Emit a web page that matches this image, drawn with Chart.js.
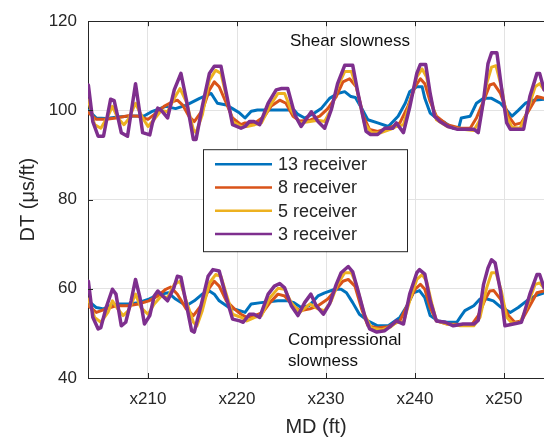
<!DOCTYPE html>
<html>
<head>
<meta charset="utf-8">
<script src="https://cdn.jsdelivr.net/npm/chart.js@4"></script>
<style>
  html, body { margin: 0; padding: 0; background: #fff; overflow: hidden; }
  canvas { display: block; }
</style>
</head>
<body>
<canvas id="dtChart" width="544" height="439"></canvas>
<script>
// receiver configurations (legend order)
const receivers = ["13 receiver", "8 receiver", "5 receiver", "3 receiver"];
const xTicks = [210, 220, 230, 240, 250];
const yTicks = [40, 60, 80, 100, 120];

// shear slowness, [MD ft, DT us/ft]
const shear13 = [[203.3,100.0],[204.2,98.3],[205.3,98.2],[206.6,98.5],[207.8,98.7],[209.6,98.8],[210.5,99.8],[212.0,100.9],[213.1,100.4],[214.3,101.2],[215.8,102.7],[217.1,103.8],[217.8,101.6],[218.8,101.2],[219.5,100.4],[220.3,99.4],[220.9,98.3],[221.6,99.8],[222.3,100.1],[226.4,100.1],[226.85,99.1],[227.6,98.3],[228.7,99.4],[229.5,100.5],[230.4,102.7],[231.3,103.8],[232.1,104.2],[232.8,103.1],[233.3,102.9],[234.0,100.5],[234.7,97.9],[235.8,97.2],[237.0,96.4],[238.1,98.7],[238.9,101.6],[239.4,104.2],[240.2,105.3],[240.8,105.3],[241.1,102.7],[241.7,99.4],[242.4,98.3],[243.4,97.2],[244.3,96.0],[244.9,96.0],[245.2,98.3],[246.2,98.7],[246.9,101.6],[247.7,102.7],[248.6,102.7],[249.6,101.6],[250.9,98.7],[251.6,100.0],[252.4,101.6],[253.3,102.3],[254.5,102.5]];
const shear8 = [[203.3,99.5],[204.2,98.0],[205.3,98.0],[206.4,98.3],[207.8,98.8],[208.9,98.7],[210.0,98.0],[210.9,99.4],[211.8,100.9],[212.8,102.0],[213.3,102.3],[213.9,101.2],[214.6,98.7],[215.2,97.5],[216.1,100.0],[216.9,104.6],[217.45,106.4],[218.0,105.3],[218.8,101.6],[219.5,98.3],[220.45,96.8],[220.9,97.2],[222.0,97.2],[223.1,98.7],[223.85,101.0],[224.8,102.3],[225.5,101.6],[226.3,98.7],[227.05,97.6],[228.2,97.8],[229.3,98.7],[230.2,100.4],[231.15,103.1],[231.9,106.4],[232.65,107.1],[233.4,105.3],[234.2,98.7],[234.9,95.7],[235.8,95.3],[237.0,96.0],[238.3,97.2],[239.2,100.9],[240.0,105.3],[240.6,107.1],[241.1,106.0],[241.7,102.0],[242.4,98.7],[243.6,96.8],[245.1,96.0],[246.2,96.0],[246.9,98.3],[247.9,103.1],[248.4,105.7],[248.85,106.0],[249.6,103.8],[250.5,98.7],[251.2,96.8],[251.95,97.2],[252.9,100.4],[253.7,103.1],[254.5,102.7]];
const shear5 = [[203.3,102.3],[204.0,96.8],[204.7,96.0],[205.5,98.7],[206.0,100.9],[206.6,98.3],[207.3,96.8],[207.8,98.0],[208.6,101.6],[209.4,98.3],[210.0,96.4],[210.7,98.0],[211.5,100.0],[212.2,99.7],[212.95,102.7],[213.6,104.9],[214.3,102.0],[215.1,95.7],[215.4,95.0],[216.1,99.0],[216.9,106.8],[217.6,109.0],[218.2,108.3],[218.8,103.1],[219.5,97.5],[220.45,96.4],[221.1,96.4],[222.0,96.8],[222.75,97.2],[223.7,101.0],[224.6,103.8],[225.35,103.8],[226.1,100.0],[227.05,97.2],[228.2,97.5],[229.1,97.8],[229.85,97.5],[230.6,100.4],[231.3,105.3],[232.1,108.7],[232.85,108.7],[233.4,105.3],[234.3,97.2],[235.1,95.0],[236.2,95.0],[237.3,95.8],[237.9,96.4],[238.7,96.8],[239.4,101.6],[240.2,107.5],[240.8,109.3],[241.3,107.5],[241.9,101.6],[242.4,97.9],[243.6,96.4],[245.1,95.8],[246.6,95.5],[247.3,97.9],[248.05,106.0],[248.6,109.7],[249.1,110.0],[249.7,105.3],[250.3,98.7],[250.9,96.2],[251.8,96.0],[252.55,99.4],[253.5,105.3],[254.0,106.0],[254.5,104.6]];
const shear3 = [[203.3,105.7],[203.8,97.5],[204.4,94.2],[205.0,94.2],[205.8,102.5],[206.2,102.2],[207.0,95.0],[207.7,94.2],[208.6,106.0],[209.4,95.0],[210.2,94.5],[210.5,97.2],[211.1,100.5],[211.5,100.0],[212.2,98.3],[212.95,104.6],[213.7,108.3],[214.3,102.5],[215.1,93.5],[215.4,93.5],[216.1,100.9],[216.9,108.3],[217.45,109.9],[218.2,109.9],[218.8,103.8],[219.5,96.8],[220.45,96.0],[220.9,96.4],[221.4,97.5],[221.9,97.5],[222.55,96.8],[223.5,101.6],[224.4,104.6],[225.0,104.9],[225.7,104.9],[226.5,99.0],[227.2,96.4],[228.35,99.7],[229.1,97.5],[229.85,96.0],[230.6,100.2],[231.3,106.0],[232.1,110.1],[233.0,110.1],[233.6,103.8],[234.5,95.3],[235.0,94.6],[235.8,94.6],[236.6,96.0],[237.5,96.0],[237.9,97.2],[238.7,95.0],[239.4,100.7],[240.2,108.3],[240.6,110.3],[241.2,110.3],[241.7,103.8],[242.2,98.7],[242.8,97.5],[243.7,96.4],[244.7,95.8],[246.6,95.8],[247.1,95.0],[247.7,102.3],[248.2,110.5],[248.6,112.9],[249.2,112.9],[249.7,105.3],[250.3,97.2],[250.7,95.8],[252.2,95.8],[252.9,103.1],[253.7,108.3],[254.0,108.3],[254.5,104.6]];

// compressional slowness, [MD ft, DT us/ft]
const comp13 = [[203.3,57.3],[204.2,55.8],[205.0,55.5],[205.8,56.2],[206.7,56.6],[207.8,56.6],[208.9,56.9],[210.1,57.7],[211.3,58.8],[212.3,59.1],[213.1,57.7],[214.3,56.2],[215.2,57.3],[216.1,58.8],[216.9,59.5],[217.45,58.8],[218.0,57.3],[219.1,55.8],[220.3,55.1],[220.9,54.7],[221.6,56.6],[222.7,56.9],[224.6,57.3],[225.7,57.3],[226.4,56.9],[227.2,55.8],[228.1,56.2],[229.1,58.4],[229.85,59.1],[231.0,59.9],[231.7,59.9],[232.3,59.1],[233.0,56.9],[233.75,54.3],[234.7,52.8],[235.8,51.7],[237.0,51.7],[238.3,53.6],[239.1,56.2],[239.8,59.1],[240.5,59.6],[241.1,58.0],[241.7,54.0],[242.6,52.8],[243.6,52.5],[244.7,52.5],[245.2,54.0],[245.6,55.1],[246.6,56.2],[247.3,57.7],[248.1,57.7],[248.8,57.3],[249.7,55.8],[250.7,54.7],[251.6,55.8],[252.55,57.3],[253.5,58.4],[254.5,59.1]];
const comp8 = [[203.3,56.2],[204.2,54.7],[205.3,55.5],[206.4,56.2],[207.8,56.2],[208.9,56.6],[210.1,57.3],[211.1,58.4],[212.0,59.9],[212.55,60.4],[213.3,58.8],[214.3,55.5],[215.1,54.0],[216.1,56.6],[216.9,60.2],[217.45,61.7],[218.0,60.6],[218.8,57.3],[219.7,55.5],[220.45,54.3],[221.1,53.6],[222.0,54.0],[222.9,54.7],[223.7,56.9],[224.6,58.8],[225.35,58.4],[226.3,56.2],[227.05,55.1],[228.2,55.5],[229.1,56.2],[230.2,57.7],[231.15,59.9],[231.9,61.7],[232.5,62.1],[233.25,60.6],[234.0,55.5],[234.7,51.7],[235.8,51.2],[237.0,51.5],[238.3,52.8],[239.2,56.6],[240.0,59.9],[240.6,61.0],[241.1,59.9],[241.7,55.8],[242.4,52.8],[243.6,52.1],[245.1,52.0],[246.4,52.0],[247.1,54.0],[247.9,57.7],[248.4,59.5],[248.85,59.6],[249.6,57.7],[250.5,54.0],[251.2,52.5],[251.95,52.8],[252.9,56.2],[253.7,59.1],[254.5,59.5]];
const comp5 = [[203.3,57.7],[204.0,53.6],[204.7,52.5],[205.5,54.7],[206.0,57.3],[206.6,55.5],[207.2,54.0],[207.8,55.1],[208.6,58.8],[209.2,55.8],[210.0,54.3],[210.7,56.6],[211.5,58.4],[212.2,58.0],[212.95,61.0],[213.6,61.7],[214.3,57.3],[215.1,52.5],[215.5,51.7],[216.1,55.1],[216.9,61.3],[217.6,63.2],[218.2,62.8],[218.8,58.8],[219.5,54.3],[220.45,53.6],[221.1,52.8],[222.0,53.6],[222.75,54.0],[223.7,58.0],[224.6,60.1],[225.35,59.9],[226.1,56.9],[227.05,54.7],[228.2,56.6],[229.1,55.5],[229.85,55.1],[230.6,57.3],[231.3,61.0],[232.1,63.6],[232.85,63.6],[233.4,61.0],[234.3,54.3],[235.1,51.2],[236.2,50.8],[237.3,51.5],[237.9,52.5],[238.7,52.5],[239.4,57.3],[240.2,62.1],[240.8,63.2],[241.3,61.7],[241.9,56.6],[242.4,52.8],[243.6,52.1],[245.1,51.7],[246.6,51.7],[247.3,53.6],[248.05,60.2],[248.6,63.6],[249.1,63.6],[249.7,59.5],[250.3,53.6],[250.9,52.3],[251.8,52.5],[252.55,55.8],[253.5,61.0],[254.0,61.3],[254.5,60.2]];
const comp3 = [[203.3,61.7],[203.8,53.6],[204.4,51.0],[204.7,51.3],[205.3,55.8],[206.0,59.9],[206.4,58.8],[207.0,51.7],[207.5,52.5],[208.1,57.3],[208.6,62.1],[209.1,58.0],[209.6,52.1],[210.2,54.0],[210.7,58.4],[211.1,59.5],[211.65,58.4],[212.2,57.3],[212.9,60.2],[213.3,62.8],[213.7,62.6],[214.3,56.6],[214.9,50.6],[215.2,50.3],[216.0,56.6],[216.75,62.8],[217.3,64.3],[218.0,64.0],[218.8,58.0],[219.5,53.2],[220.3,52.8],[220.7,52.5],[221.4,54.3],[221.9,54.3],[222.55,53.6],[223.5,58.8],[224.2,60.6],[224.8,61.2],[225.35,60.2],[226.1,56.2],[226.85,54.0],[227.6,56.9],[228.3,58.8],[228.9,56.2],[229.7,54.3],[230.4,56.6],[231.15,61.0],[231.7,63.6],[232.5,65.0],[233.0,63.8],[233.6,59.5],[234.4,53.6],[234.9,51.0],[235.7,50.3],[236.6,50.6],[237.3,51.7],[237.9,52.8],[238.7,52.1],[239.4,58.8],[240.2,63.6],[240.5,64.3],[241.1,63.3],[241.7,57.3],[242.4,52.8],[243.4,52.5],[244.3,51.7],[245.4,52.1],[246.6,52.1],[247.1,52.9],[247.7,61.0],[248.2,64.7],[248.6,66.5],[249.0,65.8],[249.6,59.5],[250.1,51.7],[251.05,52.1],[251.95,52.5],[252.9,58.8],[253.7,63.2],[254.0,63.2],[254.5,60.2]];

document.addEventListener("DOMContentLoaded", () => {
  const ctx = document.getElementById("dtChart").getContext("2d");
  const FONT = '"Liberation Sans", Arial, Helvetica, sans-serif';
  const INK = "#262626";
  const colors = ["#0072BD", "#D95319", "#EDB120", "#7E2F8E"];
  const widths = [3, 3, 3, 3.5];

  const groups = [
    [shear13, shear8, shear5, shear3],
    [comp13, comp8, comp5, comp3]
  ];

  const datasets = [];
  groups.forEach(group => {
    group.forEach((series, i) => {
      datasets.push({
        label: receivers[i],
        data: series.map(p => ({ x: p[0], y: p[1] })),
        borderColor: colors[i],
        borderWidth: widths[i],
        borderJoinStyle: "round",
        borderCapStyle: "round",
        pointRadius: 0,
        tension: 0,
        fill: false,
        order: 4 - i
      });
    });
  });

  // inward ticks, text notes and the boxed legend inside the axes
  const overlay = {
    id: "overlay",
    afterDraw(chart) {
      const c = chart.ctx;
      const a = chart.chartArea;
      const x = chart.scales.x, y = chart.scales.y;
      c.save();
      c.strokeStyle = INK;
      c.lineWidth = 1;
      c.beginPath();
      xTicks.forEach(v => {
        const px = Math.round(x.getPixelForValue(v)) + 0.5;
        c.moveTo(px, a.bottom); c.lineTo(px, a.bottom - 5);
        c.moveTo(px, a.top); c.lineTo(px, a.top + 5);
      });
      yTicks.forEach(v => {
        const py = Math.round(y.getPixelForValue(v)) + 0.5;
        c.moveTo(a.left, py); c.lineTo(a.left + 5, py);
      });
      c.stroke();

      c.fillStyle = "#111";
      c.font = "17px " + FONT;
      c.textBaseline = "middle";
      c.textAlign = "left";
      c.fillText("Shear slowness", x.getPixelForValue(225.95), y.getPixelForValue(115.6));
      c.fillText("Compressional", x.getPixelForValue(225.73), y.getPixelForValue(48.4));
      c.fillText("slowness", x.getPixelForValue(225.73), y.getPixelForValue(43.8));

      // legend box
      const lx = a.left + 115, ly = a.top + 128, lw = 204, lh = 102;
      c.fillStyle = "#fff";
      c.fillRect(lx, ly, lw, lh);
      c.strokeStyle = INK;
      c.lineWidth = 1;
      c.strokeRect(lx + 0.5, ly + 0.5, lw, lh);
      c.font = "18px " + FONT;
      receivers.forEach((name, i) => {
        const ry = ly + 15 + i * 23.3;
        c.strokeStyle = colors[i];
        c.lineWidth = 2.5;
        c.beginPath();
        c.moveTo(lx + 12, ry); c.lineTo(lx + 69, ry);
        c.stroke();
        c.fillStyle = INK;
        c.fillText(name, lx + 75, ry + 1);
      });
      c.restore();
    }
  };

  new Chart(ctx, {
    type: "line",
    data: { datasets },
    plugins: [overlay],
    options: {
      responsive: false,
      animation: false,
      layout: { padding: { top: 17, right: 0, left: 0, bottom: 0 } },
      plugins: { legend: { display: false }, tooltip: { enabled: false } },
      scales: {
        x: {
          type: "linear",
          min: 203.26,
          max: 254.49,
          afterBuildTicks: s => { s.ticks = xTicks.map(v => ({ value: v })); },
          afterFit: s => { s.height = 61; },
          grid: { color: "#e3e3e3", drawTicks: false },
          border: { color: INK, width: 1 },
          ticks: {
            color: INK,
            padding: 11,
            maxRotation: 0,
            autoSkip: false,
            font: { family: FONT, size: 17 },
            callback: v => "x" + v
          },
          title: {
            display: true,
            text: "MD (ft)",
            color: INK,
            font: { family: FONT, size: 20 },
            padding: { top: 0, bottom: 0 }
          }
        },
        y: {
          min: 40,
          max: 120,
          afterBuildTicks: s => { s.ticks = yTicks.map(v => ({ value: v })); },
          afterFit: s => { s.width = 88; },
          grid: {
            color: c => (c.tick && c.tick.value === 120 ? INK : "#e3e3e3"),
            drawTicks: false
          },
          border: { color: INK, width: 1 },
          ticks: {
            color: INK,
            padding: 11,
            font: { family: FONT, size: 17 }
          },
          title: {
            display: true,
            text: "DT (μs/ft)",
            color: INK,
            font: { family: FONT, size: 20 },
            padding: { top: 16, bottom: 0 }
          }
        }
      }
    }
  });
});
</script>
</body>
</html>
